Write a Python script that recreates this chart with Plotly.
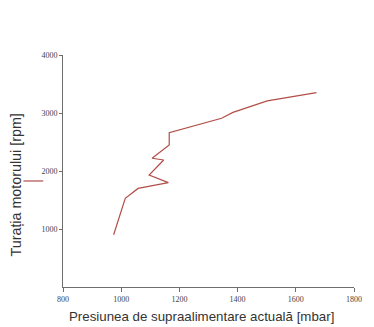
import plotly.graph_objects as go

pressure = [974, 1014, 1058, 1162, 1096, 1146, 1106, 1165, 1165, 1345, 1384, 1502, 1671]
rpm = [900, 1530, 1700, 1800, 1930, 2190, 2220, 2450, 2660, 2910, 3010, 3210, 3350]
x_ticks = [800, 1000, 1200, 1400, 1600, 1800]
y_ticks = [1000, 2000, 3000, 4000]
x_title = "Presiunea de supraalimentare actuală [mbar]"
y_title = "Turația motorului [rpm]"

line_color = "rgb(178,78,72)"
axis_color = "rgb(110,110,110)"
text_color = "#333333"

fig = go.Figure()
fig.add_trace(go.Scatter(x=pressure, y=rpm, mode="lines",
                         line=dict(color=line_color, width=1.2), showlegend=False))

fig.add_shape(type="line", xref="paper", yref="paper",
              x0=-0.136, x1=-0.068, y0=0.457, y1=0.457,
              line=dict(color=line_color, width=1.2))

fig.add_annotation(text=x_title, xref="paper", yref="paper", x=0.4776, y=-0.125,
                   xanchor="center", yanchor="middle", showarrow=False,
                   font=dict(family="Liberation Sans", size=13.3, color=text_color))
fig.add_annotation(text=y_title, xref="paper", yref="paper", x=-0.163, y=0.44,
                   xanchor="center", yanchor="middle", showarrow=False, textangle=-90,
                   font=dict(family="Liberation Sans", size=14.3, color=text_color))

tickfont = dict(family="Liberation Serif", size=8, color="#444444")
fig.update_layout(
    width=366, height=319,
    margin=dict(l=55, r=14, t=47, b=40),
    paper_bgcolor="white", plot_bgcolor="white",
    xaxis=dict(range=[800, 1800], tickvals=x_ticks, ticks="outside", ticklen=4,
               tickcolor=axis_color, showline=True, linecolor=axis_color, linewidth=1,
               showgrid=False, zeroline=False, tickfont=tickfont,
               ticklabeloverflow="allow"),
    yaxis=dict(range=[0, 4000], tickvals=y_ticks, ticks="outside", ticklen=3,
               tickcolor=axis_color, showline=True, linecolor=axis_color, linewidth=1,
               showgrid=False, zeroline=False, tickfont=tickfont,
               ticklabeloverflow="allow"),
)

fig.write_html("out.html")
